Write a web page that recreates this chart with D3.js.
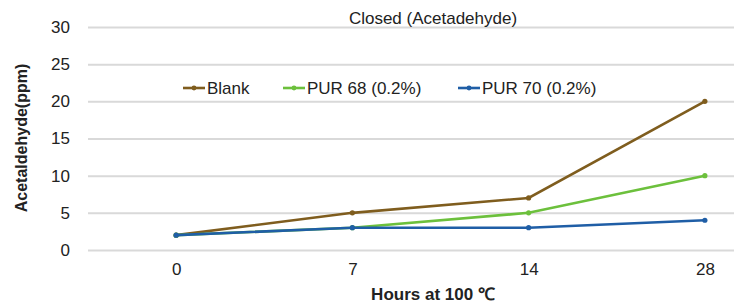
<!DOCTYPE html>
<html>
<head>
<meta charset="utf-8">
<script src="https://cdn.jsdelivr.net/npm/d3@7"></script>
<style>
  body { margin: 0; background: #fff; }
  text { font-family: "Liberation Sans", Arial, sans-serif; }
</style>
</head>
<body>
<svg id="chart" width="734" height="305"></svg>
<script>
const hours = ["0", "7", "14", "28"];
const blank = [2, 5, 7, 20];
const pur68 = [2, 3, 5, 10];
const pur70 = [2, 3, 3, 4];
const yTicks = [0, 5, 10, 15, 20, 25, 30];

const series = [
  { name: "Blank", values: blank, color: "#7f5d1e", lx: 183 },
  { name: "PUR 68 (0.2%)", values: pur68, color: "#6cc03c", lx: 283 },
  { name: "PUR 70 (0.2%)", values: pur70, color: "#1f5ea6", lx: 458 },
];

const svg = d3.select("#chart");
const margin = { top: 27, right: -59, bottom: 55, left: 88 };
const width = +svg.attr("width");
const height = +svg.attr("height");
const chartWidth = width - margin.left - margin.right;
const chartHeight = height - margin.top - margin.bottom;

const g = svg.append("g")
  .attr("transform", `translate(${margin.left},${margin.top})`);

const x = d3.scalePoint()
  .domain(hours)
  .range([0, chartWidth])
  .padding(0.5);

const y = d3.scaleLinear()
  .domain([0, 30])
  .range([chartHeight, 0]);

// gridlines + y labels
const yAxis = g.append("g")
  .call(d3.axisLeft(y).tickValues(yTicks).tickSize(-(width - margin.left)).tickPadding(18));
yAxis.select(".domain").remove();
yAxis.selectAll(".tick line").attr("stroke", "#d9d9d9").attr("stroke-width", 2);
yAxis.selectAll(".tick text").attr("font-size", 17).attr("fill", "#222");

// x labels
const xAxis = g.append("g")
  .attr("transform", `translate(0,${chartHeight})`)
  .call(d3.axisBottom(x).tickSize(0).tickPadding(13));
xAxis.select(".domain").remove();
xAxis.selectAll(".tick text").attr("font-size", 17).attr("fill", "#222");

const line = d3.line()
  .x((d, i) => x(hours[i]))
  .y((d) => y(d));

series.forEach((s) => {
  g.append("path")
    .datum(s.values)
    .attr("fill", "none")
    .attr("stroke", s.color)
    .attr("stroke-width", 2.6)
    .attr("d", line);
  g.selectAll(null)
    .data(s.values)
    .enter()
    .append("circle")
    .attr("cx", (d, i) => x(hours[i]))
    .attr("cy", (d) => y(d))
    .attr("r", 2.6)
    .attr("fill", s.color);
});

// legend
const legend = svg.append("g").attr("transform", "translate(0,88)");
series.forEach((s) => {
  legend.append("line")
    .attr("x1", s.lx).attr("x2", s.lx + 22)
    .attr("stroke", s.color).attr("stroke-width", 2.6);
  legend.append("circle")
    .attr("cx", s.lx + 11).attr("r", 2.4).attr("fill", s.color);
  legend.append("text")
    .attr("x", s.lx + 24).attr("dy", "0.35em")
    .attr("font-size", 17).attr("fill", "#222")
    .text(s.name);
});

// titles
svg.append("text")
  .attr("x", 433).attr("y", 24)
  .attr("text-anchor", "middle")
  .attr("font-size", 17).attr("fill", "#222")
  .text("Closed (Acetadehyde)");

svg.append("text")
  .attr("x", 433).attr("y", 300)
  .attr("text-anchor", "middle")
  .attr("font-size", 17).attr("font-weight", "bold").attr("fill", "#222")
  .text("Hours at 100 ℃");

svg.append("text")
  .attr("transform", "translate(27,138) rotate(-90)")
  .attr("text-anchor", "middle")
  .attr("font-size", 16).attr("font-weight", "bold").attr("fill", "#222")
  .text("Acetaldehyde(ppm)");
</script>
</body>
</html>
